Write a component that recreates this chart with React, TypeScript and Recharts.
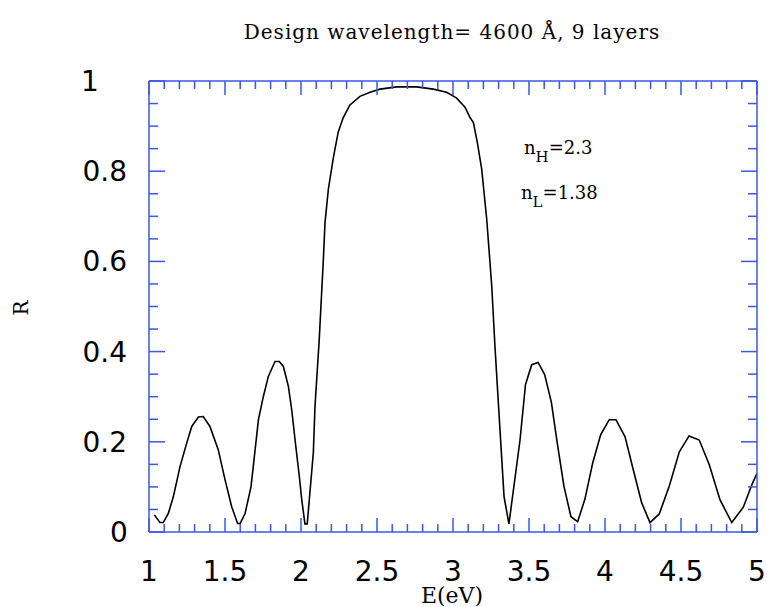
import React from 'react'
import { LineChart, Line, XAxis, YAxis } from 'recharts'

// photon energy (eV) and reflectance
const energy = [
  1.035, 1.072, 1.094, 1.127, 1.16, 1.204, 1.248, 1.281, 1.325, 1.357, 1.401, 1.456, 1.5, 1.544, 1.583, 1.6,
  1.632, 1.671, 1.72, 1.752, 1.785, 1.829, 1.857, 1.884, 1.917, 1.939, 1.961, 1.989, 2.005, 2.026, 2.041,
  2.081, 2.092, 2.12, 2.147, 2.158, 2.18, 2.213, 2.245, 2.278, 2.322, 2.388, 2.454, 2.52, 2.63, 2.761, 2.87,
  2.958, 3.024, 3.079, 3.112, 3.134, 3.16, 3.189, 3.222, 3.255, 3.276, 3.309, 3.336, 3.368, 3.441, 3.477,
  3.518, 3.56, 3.603, 3.647, 3.686, 3.73, 3.776, 3.82, 3.868, 3.919, 3.972, 4.028, 4.072, 4.132, 4.186,
  4.241, 4.296, 4.357, 4.423, 4.489, 4.553, 4.62, 4.686, 4.757, 4.834, 4.91, 4.965, 5.0,
]
const reflectance = [
  0.038, 0.021, 0.021, 0.041, 0.078, 0.145, 0.197, 0.234, 0.255, 0.256, 0.234, 0.182, 0.116, 0.056, 0.019, 0.019,
  0.041, 0.1, 0.249, 0.3, 0.345, 0.378, 0.378, 0.367, 0.323, 0.271, 0.204, 0.123, 0.071, 0.018, 0.018,
  0.175, 0.278, 0.427, 0.604, 0.686, 0.76, 0.83, 0.887, 0.919, 0.947, 0.966, 0.975, 0.982, 0.987, 0.987, 0.982,
  0.975, 0.962, 0.942, 0.919, 0.908, 0.864, 0.804, 0.693, 0.545, 0.412, 0.227, 0.078, 0.018, 0.204, 0.327,
  0.371, 0.376, 0.349, 0.288, 0.197, 0.101, 0.034, 0.023, 0.073, 0.153, 0.216, 0.249, 0.249, 0.211, 0.138,
  0.065, 0.021, 0.04, 0.102, 0.178, 0.213, 0.204, 0.149, 0.071, 0.021, 0.055, 0.104, 0.13,
]

// minor ticks every 0.1 eV / 0.05 in R, labelled ones every 0.5 eV / 0.2
const xTicks = Array.from({ length: 41 }, (_, i) => Math.round((1 + i * 0.1) * 10) / 10)
const yTicks = Array.from({ length: 21 }, (_, i) => Math.round(i * 5) / 100)

const data = energy.map((e, i) => ({ e, r: reflectance[i] }))

const AXIS = '#3a57e8'
const LABEL_FONT = '"DejaVu Sans", Verdana, sans-serif'
const SERIF = '"DejaVu Serif", serif'

const isMajorX = (v: number) => Math.abs(v * 2 - Math.round(v * 2)) < 1e-6
const isMajorY = (v: number) => Math.abs(v * 5 - Math.round(v * 5)) < 1e-6
const fmt = (v: number) => String(Math.round(v * 10) / 10)

// some y labels sit off the usual right-aligned spot in the original
const yLabelShift: Record<string, { dx: number; anchor: 'end' | 'middle' }> = {
  '1': { dx: -59, anchor: 'middle' },
  '0': { dx: -30, anchor: 'middle' },
}

function XTick({ x, y, payload, side }: any) {
  const major = isMajorX(payload.value)
  const len = major ? 14 : 8
  const dir = side === 'top' ? 1 : -1
  return (
    <g>
      <line x1={x} x2={x} y1={y} y2={y + dir * len} stroke={AXIS} strokeWidth={1.5} />
      {side === 'bottom' && major && (
        <text x={x} y={y + 49} textAnchor="middle" fontFamily={LABEL_FONT} fontSize={28} fill="#000">
          {fmt(payload.value)}
        </text>
      )}
    </g>
  )
}

function YTick({ x, y, payload, side }: any) {
  const major = isMajorY(payload.value)
  const len = major ? 16 : 9
  const dir = side === 'left' ? 1 : -1
  const label = fmt(payload.value)
  const shift = yLabelShift[label] ?? { dx: -22, anchor: 'end' }
  return (
    <g>
      <line x1={x} x2={x + dir * len} y1={y} y2={y} stroke={AXIS} strokeWidth={1.5} />
      {side === 'left' && major && (
        <text x={x + shift.dx} y={y + 10} textAnchor={shift.anchor} fontFamily={LABEL_FONT} fontSize={28} fill="#000">
          {label}
        </text>
      )}
    </g>
  )
}

const subStyle = { fontSize: 15, verticalAlign: '-0.5em', lineHeight: 0 }

export default function App() {
  const axisLine = { stroke: AXIS, strokeWidth: 1.5 }
  return (
    <div style={{ position: 'absolute', left: 0, top: 0, width: 767, height: 607, background: '#fff' }}>
      <div
        style={{
          position: 'absolute', left: 0, width: 904, top: 20, textAlign: 'center',
          fontFamily: SERIF, fontSize: 20, letterSpacing: 1, color: '#000', whiteSpace: 'nowrap',
        }}
      >
        Design wavelength= 4600 Å, 9 layers
      </div>
      <div
        style={{
          position: 'absolute', left: 6, top: 296, width: 30, textAlign: 'center',
          fontFamily: SERIF, fontSize: 20, transform: 'rotate(-90deg)',
        }}
      >
        R
      </div>
      <div
        style={{
          position: 'absolute', left: 352, width: 200, top: 586, textAlign: 'center',
          fontFamily: SERIF, fontSize: 22, lineHeight: '20px', color: '#000',
        }}
      >
        E(eV)
      </div>
      <div style={{ position: 'absolute', left: 524, top: 137, fontFamily: SERIF, fontSize: 18, whiteSpace: 'nowrap' }}>
        n<sub style={subStyle}>H</sub>=2.3
      </div>
      <div style={{ position: 'absolute', left: 521, top: 182, fontFamily: SERIF, fontSize: 18, whiteSpace: 'nowrap' }}>
        n<sub style={subStyle}>L</sub>=1.38
      </div>
      <LineChart width={767} height={607} data={data} margin={{ top: 0, right: 0, bottom: 0, left: 0 }}>
        <XAxis
          xAxisId="bottom" dataKey="e" type="number" domain={[1, 5]} ticks={xTicks} interval={0}
          height={75} tickSize={0} tickMargin={0} tickLine={false} axisLine={axisLine}
          tick={(p: any) => <XTick {...p} side="bottom" />} allowDataOverflow
        />
        <XAxis
          xAxisId="top" orientation="top" dataKey="e" type="number" domain={[1, 5]} ticks={xTicks} interval={0}
          height={81} tickSize={0} tickMargin={0} tickLine={false} axisLine={axisLine}
          tick={(p: any) => <XTick {...p} side="top" />} allowDataOverflow
        />
        <YAxis
          yAxisId="left" type="number" domain={[0, 1]} ticks={yTicks} interval={0}
          width={149} tickSize={0} tickMargin={0} tickLine={false} axisLine={axisLine}
          tick={(p: any) => <YTick {...p} side="left" />} allowDataOverflow
        />
        <YAxis
          yAxisId="right" orientation="right" type="number" domain={[0, 1]} ticks={yTicks} interval={0}
          width={10} tickSize={0} tickMargin={0} tickLine={false} axisLine={axisLine}
          tick={(p: any) => <YTick {...p} side="right" />} allowDataOverflow
        />
        <Line
          xAxisId="bottom" yAxisId="left" type="linear" dataKey="r" stroke="#000" strokeWidth={1.6}
          dot={false} isAnimationActive={false}
        />
        <Line
          xAxisId="top" yAxisId="right" type="linear" dataKey="r" stroke="none" strokeWidth={0}
          dot={false} isAnimationActive={false} legendType="none"
        />
      </LineChart>
    </div>
  )
}
